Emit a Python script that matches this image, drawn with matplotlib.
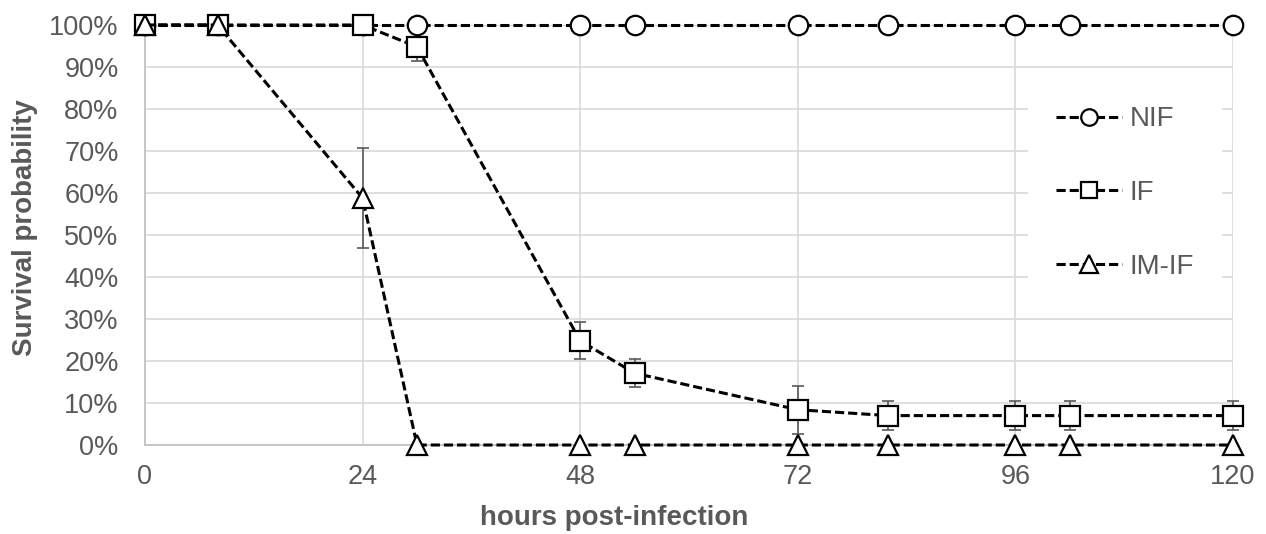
import numpy as np
import matplotlib
matplotlib.use("Agg")
import matplotlib.pyplot as plt
from matplotlib.ticker import PercentFormatter

# hours post-infection and survival (%) per group
hours = [0, 8, 24, 30, 48, 54, 72, 82, 96, 102, 120]
nif = [100, 100, 100, 100, 100, 100, 100, 100, 100, 100, 100]
inf = [100, 100, 100, 94.8, 24.8, 17.1, 8.4, 7.0, 7.0, 7.0, 7.0]
inf_err = [0, 0, 0, 3.4, 4.4, 3.3, 5.7, 3.5, 3.5, 3.5, 3.5]
imif = [100, 100, 58.8, 0, 0, 0, 0, 0, 0, 0, 0]
imif_err = [0, 0, 11.9, 0, 0, 0, 0, 0, 0, 0, 0]

labels = ['NIF', 'IF', 'IM-IF']
markers = ['o', 's', '^']

plt.rcParams['font.family'] = ['Liberation Sans', 'DejaVu Sans']
gray = '#595959'

fig = plt.figure(figsize=(12.66, 5.34), dpi=100)
ax = fig.add_axes([145 / 1266, 89 / 534, 1088 / 1266, 420 / 534])

x = np.array(hours)
for y, err in [(inf, inf_err), (imif, imif_err)]:
    y = np.array(y)
    err = np.array(err)
    m = err > 0
    ax.errorbar(x[m], y[m], yerr=err[m], fmt='none', ecolor=gray,
                elinewidth=1.2, capsize=4, capthick=1.2, zorder=2, clip_on=False)

for y, lab, mk in zip([nif, inf, imif], labels, markers):
    ms = 14 if mk != '^' else 15
    ax.plot(hours, y, linestyle=(0, (3.0, 1.3)), color='black', linewidth=2.2,
            marker=mk, markersize=ms, markerfacecolor='white',
            markeredgecolor='black', markeredgewidth=1.6, label=lab,
            zorder=3, clip_on=False)

ax.set_xlim(0, 120)
ax.set_ylim(0, 100)
ax.set_xticks([0, 24, 48, 72, 96, 120])
ax.set_yticks(range(0, 101, 10))
ax.yaxis.set_major_formatter(PercentFormatter(100, decimals=0))

ax.grid(True, color='#d9d9d9', linewidth=1.2, zorder=0)
ax.set_axisbelow(True)
for s in ['top', 'right']:
    ax.spines[s].set_visible(False)
for s in ['left', 'bottom']:
    ax.spines[s].set_color('#bfbfbf')
    ax.spines[s].set_linewidth(1.2)
ax.tick_params(axis='both', length=0, labelsize=19.5, labelcolor=gray)
ax.tick_params(axis='y', pad=19)
ax.tick_params(axis='x', pad=14)

fig.text(614 / 1266, 1 - 518 / 534, 'hours post-infection', ha='center',
         va='center', fontsize=20, fontweight='bold', color=gray)
fig.text(25 / 1266, 1 - 228 / 534, 'Survival probability', ha='center',
         va='center', rotation=90, fontsize=20, fontweight='bold', color=gray)

leg = ax.legend(loc='center left', bbox_to_anchor=(1028 / 1266, 1 - 193 / 534),
                bbox_transform=fig.transFigure, frameon=True, fancybox=False,
                fontsize=20, handlelength=2.4, handletextpad=0.25,
                labelspacing=1.72, markerscale=0.85, borderpad=1.0,
                borderaxespad=0)
leg.get_frame().set_facecolor('white')
leg.get_frame().set_edgecolor('none')
leg.get_frame().set_alpha(1)
for t in leg.get_texts():
    t.set_color(gray)

fig.savefig('out.png', dpi=100)
